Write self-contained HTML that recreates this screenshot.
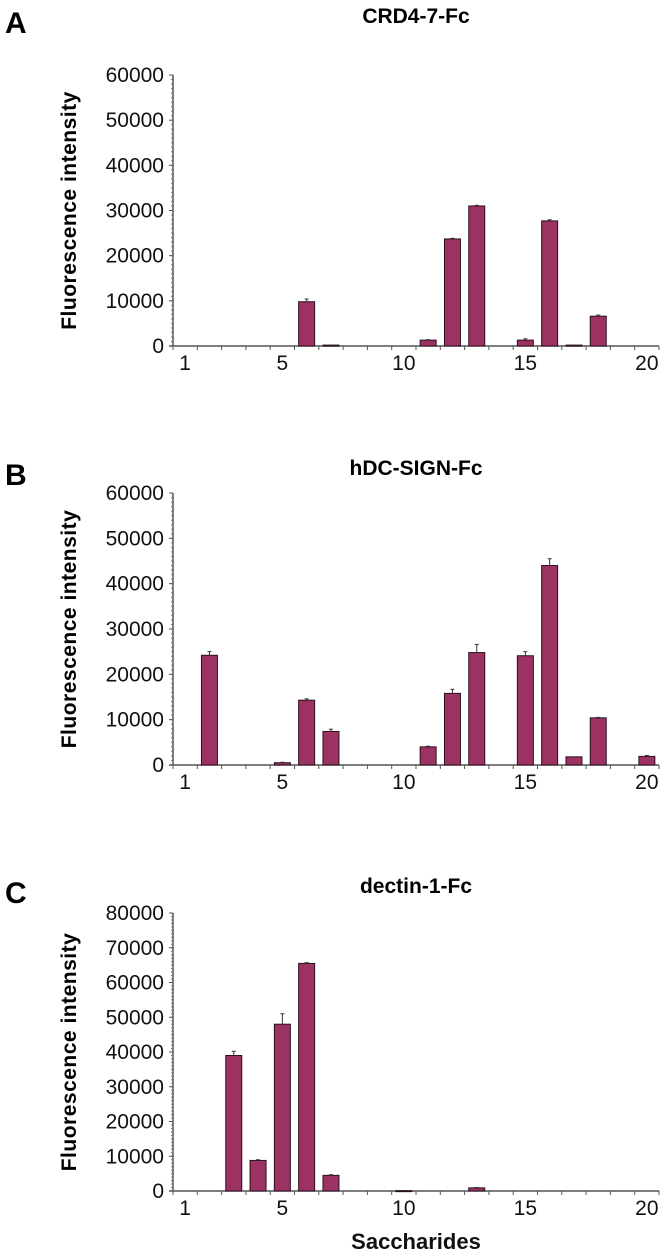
<!DOCTYPE html>
<html><head><meta charset="utf-8">
<style>
html,body{margin:0;padding:0;background:#fff;}
svg{display:block;font-family:"Liberation Sans",Arial,sans-serif;}
</style></head>
<body>
<svg id="fig" width="666" height="1255" viewBox="0 0 666 1255" xmlns="http://www.w3.org/2000/svg"></svg>
<script>
const categories = [1,2,3,4,5,6,7,8,9,10,11,12,13,14,15,16,17,18,19,20];
const xTickLabels = ["1","5","10","15","20"];
const xTickCats = [1,5,10,15,20];
const valuesA = [0,0,0,0,0,9800,200,0,0,0,1300,23700,31000,0,1300,27700,200,6600,0,0];
const errorsA = [0,0,0,0,0,600,0,0,0,0,100,150,150,0,300,250,0,250,0,0];
const valuesB = [0,24200,0,0,500,14300,7400,0,0,0,4000,15800,24800,0,24100,44000,1800,10400,0,1900];
const errorsB = [0,800,0,0,100,300,500,0,0,0,150,900,1800,0,900,1500,0,100,0,200];
const valuesC = [0,0,39000,8800,48000,65500,4500,0,0,100,0,0,900,0,0,0,0,0,0,0];
const errorsC = [0,0,1200,200,3000,200,200,0,0,0,0,0,100,0,0,0,0,0,0,0];
const yTicksA = [0,10000,20000,30000,40000,50000,60000];
const yTicksB = [0,10000,20000,30000,40000,50000,60000];
const yTicksC = [0,10000,20000,30000,40000,50000,60000,70000,80000];

const NS="http://www.w3.org/2000/svg";
const svg=document.getElementById('fig');
function mk(tag,attrs,parent){const e=document.createElementNS(NS,tag);for(const k in attrs)e.setAttribute(k,attrs[k]);(parent||svg).appendChild(e);return e;}

function panel(cfg){
  const g=mk('g',{});
  
  
  const x0=173, cw=24.3, yTop=cfg.yTop, yZero=cfg.yZero, yMax=cfg.yMax;
  const xs=c=>x0+cw*(c-0.5);
  const ys=v=>yZero-(v/yMax)*(yZero-yTop);
  const L=mk('text',{x:5,y:cfg.letterY,'font-size':30,'font-weight':'bold',fill:'#000'},g);
  L.textContent=cfg.letter;
  
  
  const T=mk('text',{x:416,y:cfg.titleY,'font-size':21,'font-weight':'bold','text-anchor':'middle',fill:'#000'},g);
  T.textContent=cfg.title;
  
  
  const cy=(yTop+yZero)/2;
  const YT=mk('text',{x:0,y:0,'font-size':21,'font-weight':'bold','text-anchor':'middle',fill:'#000',transform:`translate(76,${cy}) rotate(-90)`,'letter-spacing':'0.5'},g);
  YT.textContent='Fluorescence  intensity';
  
  
  const ya=mk('line',{x1:x0,y1:yTop,x2:x0,y2:yZero,stroke:'#555','stroke-width':1.5},g);
  
  
  const step=cfg.yTicks[1]-cfg.yTicks[0];
  for(let v=0;v<=yMax+1;v+=step/10){
    mk('line',{x1:x0-2,y1:ys(v),x2:x0,y2:ys(v),stroke:'#777','stroke-width':1},g);
  }
  cfg.yTicks.forEach(v=>{
    mk('line',{x1:x0-4,y1:ys(v),x2:x0,y2:ys(v),stroke:'#555','stroke-width':1},g);
    const t=mk('text',{x:x0-9,y:ys(v)+7,'font-size':21,'text-anchor':'end',fill:'#111'},g);
    t.textContent=String(v);
    
    
  });
  const xEnd=x0+cw*categories.length;
  const xa=mk('line',{x1:x0-4,y1:yZero,x2:xEnd,y2:yZero,stroke:'#555','stroke-width':1.5},g);
  
  
  for(let i=0;i<=categories.length;i++){
    mk('line',{x1:x0+cw*i,y1:yZero,x2:x0+cw*i,y2:yZero+4,stroke:'#555','stroke-width':1},g);
  }
  xTickCats.forEach((c,i)=>{
    const t=mk('text',{x:xs(c),y:yZero+24,'font-size':21,'text-anchor':'middle',fill:'#111'},g);
    t.textContent=xTickLabels[i];
    
    
  });
  categories.forEach((c,i)=>{
    const v=cfg.values[i];
    if(v<=0) return;
    const e=cfg.errors[i];
    const cx=xs(c);
    const yt=ys(v);
    const r=mk('rect',{x:cx-8,y:yt,width:16,height:Math.max(yZero-yt,1),fill:'#9c3262',stroke:'#2a1020','stroke-width':1},g);
    
    
    if(e>0){
      const ye=ys(v+e);
      mk('line',{x1:cx,y1:yt,x2:cx,y2:ye,stroke:'#333','stroke-width':1},g);
      mk('line',{x1:cx-2,y1:ye,x2:cx+2,y2:ye,stroke:'#333','stroke-width':1},g);
    }
  });
}
panel({name:'panel-a-chart',letter:'A',letterY:33,title:'CRD4-7-Fc',titleY:23,yTop:75,yZero:346,yMax:60000,yTicks:yTicksA,values:valuesA,errors:errorsA});
panel({name:'panel-b-chart',letter:'B',letterY:485,title:'hDC-SIGN-Fc',titleY:475,yTop:493,yZero:765,yMax:60000,yTicks:yTicksB,values:valuesB,errors:errorsB});
panel({name:'panel-c-chart',letter:'C',letterY:903,title:'dectin-1-Fc',titleY:893,yTop:913,yZero:1191,yMax:80000,yTicks:yTicksC,values:valuesC,errors:errorsC});
const xt=mk('text',{x:416,y:1249,'font-size':22,'font-weight':'bold','text-anchor':'middle',fill:'#111'});
xt.textContent='Saccharides';


</script>
</body></html>
